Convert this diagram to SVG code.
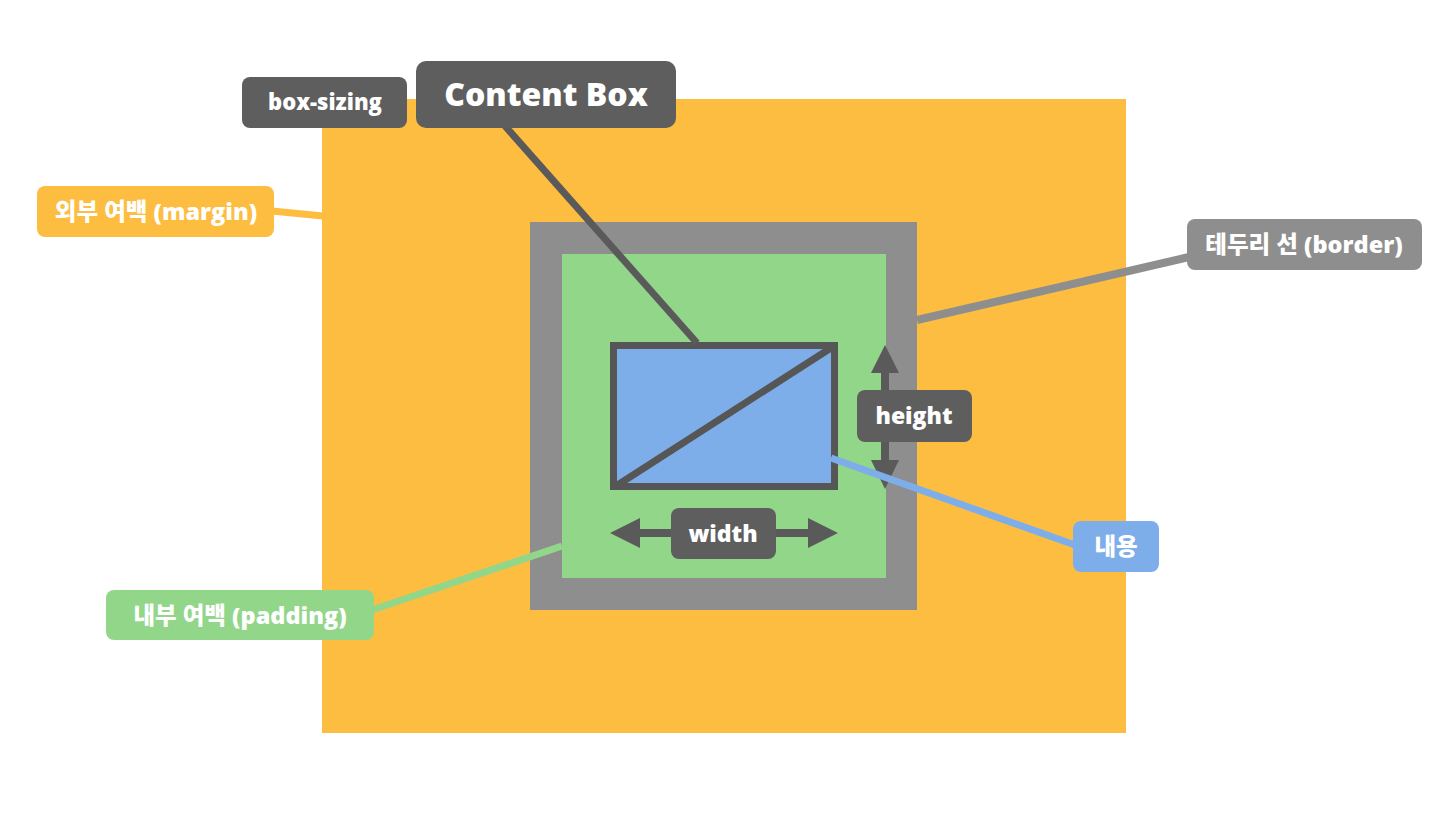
<svg xmlns="http://www.w3.org/2000/svg" width="1442" height="815" viewBox="0 0 1442 815">
<style>
.lbl{font-family:"Open Sans","Noto Sans CJK KR",sans-serif;font-weight:800;fill:#fff;text-anchor:middle}
.dark{fill:#5e5e5e}
.ln{fill:none;stroke-linecap:butt}
</style>
<rect width="1442" height="815" fill="#fff"/>
<g id="margin-box"><rect x="322" y="99" width="804" height="634" fill="#fdbd40"/></g>
<g id="border-box"><rect x="530" y="222" width="387" height="388" fill="#8e8e8e"/></g>
<g id="padding-box"><rect x="562" y="254" width="324" height="324" fill="#92d68a"/></g>
<g id="content-box">
<rect x="613.5" y="345.5" width="221" height="141" fill="#7daeea" stroke="#565656" stroke-width="7"/>
<line x1="616" y1="486" x2="834" y2="346" stroke="#565656" stroke-width="7"/>
</g>
<g id="connectors">
<line class="ln" x1="505" y1="126" x2="697" y2="343" stroke="#5a5a5a" stroke-width="7"/>
<line class="ln" x1="272" y1="211" x2="323" y2="216" stroke="#fdbd40" stroke-width="7"/>
<line class="ln" x1="917" y1="320" x2="1189" y2="257" stroke="#8e8e8e" stroke-width="8"/>
<line class="ln" x1="372" y1="610" x2="562" y2="546" stroke="#92d68a" stroke-width="7"/>
<line class="ln" x1="885" y1="360" x2="885" y2="475" stroke="#5a5a5a" stroke-width="8"/>
<polygon points="885,345 871,373 899,373" fill="#5a5a5a"/>
<polygon points="885,489 871,460 899,460" fill="#5a5a5a"/>
<line class="ln" x1="625" y1="533" x2="823" y2="533" stroke="#5a5a5a" stroke-width="8"/>
<polygon points="610,533 640,518 640,548" fill="#5a5a5a"/>
<polygon points="838,533 808,518 808,548" fill="#5a5a5a"/>
<line class="ln" x1="831" y1="458" x2="1075" y2="545" stroke="#7daeea" stroke-width="7"/>
</g>
<g id="label-content-box"><rect x="416" y="61" width="260" height="67" rx="10" class="dark"/><text x="546" y="106" class="lbl" font-size="32">Content Box</text></g>
<g id="label-box-sizing"><rect x="242" y="77" width="165" height="51" rx="8" class="dark"/><text x="325" y="110" class="lbl" font-size="22">box-sizing</text></g>
<g id="label-margin"><rect x="37" y="186" width="237" height="51" rx="8" fill="#fdbd40"/><text x="156" y="220" class="lbl" font-size="23.5">외부 여백 (margin)</text></g>
<g id="label-border"><rect x="1187" y="219" width="235" height="51" rx="8" fill="#8e8e8e"/><text x="1304" y="253" class="lbl" font-size="23.5">테두리 선 (border)</text></g>
<g id="label-height"><rect x="857" y="390" width="115" height="52" rx="8" class="dark"/><text x="914" y="424" class="lbl" font-size="23">height</text></g>
<g id="label-width"><rect x="671" y="508" width="105" height="51" rx="8" class="dark"/><text x="723" y="542" class="lbl" font-size="23">width</text></g>
<g id="label-content"><rect x="1073" y="521" width="86" height="51" rx="8" fill="#7daeea"/><text x="1116" y="555" class="lbl" font-size="23.5">내용</text></g>
<g id="label-padding"><rect x="106" y="590" width="268" height="50" rx="8" fill="#92d68a"/><text x="240" y="624" class="lbl" font-size="23.5">내부 여백 (padding)</text></g>
</svg>
